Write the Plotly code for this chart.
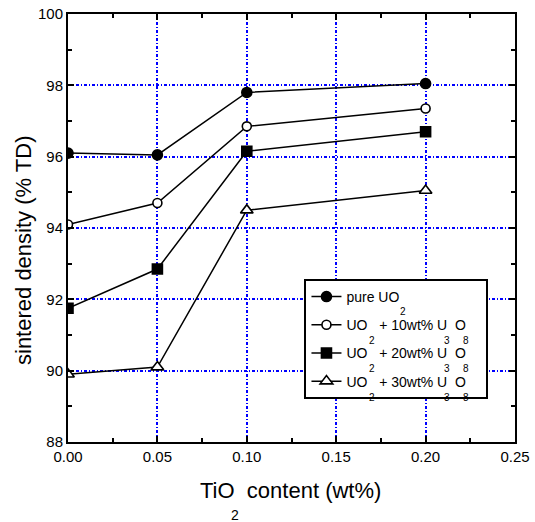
import plotly.graph_objects as go

# TiO2 additive content (wt%)
tio2 = [0.00, 0.05, 0.10, 0.20]

# Sintered density (% of theoretical density) for each powder blend
pure_uo2 = [96.10, 96.05, 97.80, 98.05]
u3o8_10 = [94.10, 94.70, 96.85, 97.35]
u3o8_20 = [91.75, 92.85, 96.15, 96.70]
u3o8_30 = [89.90, 90.10, 94.50, 95.05]

PAD = "\u00a0" * 4
series_names = [
    "pure UO",
    "UO   + 10wt% U  O" + PAD,
    "UO   + 20wt% U  O" + PAD,
    "UO   + 30wt% U  O" + PAD,
]
series_values = [pure_uo2, u3o8_10, u3o8_20, u3o8_30]
symbols = ["circle", "circle", "square", "triangle-up"]
fills = ["black", "white", "black", "white"]
sizes = [10, 9, 10, 11]

x_ticks = [0.00, 0.05, 0.10, 0.15, 0.20, 0.25]
y_ticks = [88, 90, 92, 94, 96, 98, 100]

FONT = "Liberation Sans, Arial, sans-serif"
W, H = 535, 522
ML, MR, MT, MB = 68, 20, 14, 80
PW, PH = W - ML - MR, H - MT - MB

fig = go.Figure()
for i, (name, vals) in enumerate(zip(series_names, series_values)):
    fig.add_trace(go.Scatter(
        x=tio2, y=vals, name=name, mode="lines+markers",
        legendgroup=f"g{i}",
        line=dict(color="black", width=1.5),
        marker=dict(symbol=symbols[i], size=sizes[i], color=fills[i],
                    line=dict(color="black", width=1.6)),
    ))

grid = dict(showgrid=True, gridcolor="#0000ff", gridwidth=1.5,
            griddash="3px,2px,1px,2px")

fig.update_xaxes(
    range=[0, 0.25], tickvals=x_ticks, tickformat=".2f", automargin=False,
    ticks="inside", ticklen=6, tickwidth=2, tickcolor="black",
    minor=dict(dtick=0.025, ticks="inside", ticklen=4, tickwidth=1.5,
               tickcolor="black", showgrid=False),
    showline=True, linecolor="black", linewidth=2, mirror="ticks",
    zeroline=False, tickfont=dict(family=FONT, size=15, color="black"),
    **grid,
)
fig.update_yaxes(
    range=[88, 100], tickvals=y_ticks, automargin=False,
    ticks="inside", ticklen=6, tickwidth=2, tickcolor="black",
    minor=dict(dtick=1, ticks="inside", ticklen=4, tickwidth=1.5,
               tickcolor="black", showgrid=False),
    showline=True, linecolor="black", linewidth=2, mirror="ticks",
    zeroline=False, tickfont=dict(family=FONT, size=15, color="black"),
    **grid,
)


def add_label(text, px, py, size, angle=0):
    """Place a text centred at page pixel (px, py)."""
    fig.add_annotation(text=text, xref="paper", yref="paper",
                       x=(px - ML) / PW, y=1 - (py - MT) / PH,
                       xanchor="center", yanchor="middle",
                       textangle=angle, showarrow=False,
                       font=dict(family=FONT, size=size, color="black"))


# Axis titles with their detached subscripts
add_label("sintered density (% TD)", 23, 251, 22, angle=-90)
add_label("TiO  content (wt%)", 290, 491, 22)
add_label("2", 235, 515, 14)

# Subscripts of the legend entries
for txt, px, py in [
    ("2", 403, 311),
    ("2", 372, 340), ("3", 447, 340), ("8", 466, 340),
    ("2", 372, 368), ("3", 447, 368), ("8", 466, 368),
    ("2", 372, 397), ("3", 447, 397), ("8", 466, 397),
]:
    add_label(txt, px, py, 10)

fig.update_layout(
    width=W, height=H,
    margin=dict(l=ML, r=MR, t=MT, b=MB),
    paper_bgcolor="white", plot_bgcolor="white",
    font=dict(family=FONT, color="black"),
    legend=dict(
        x=0.529, y=0.381, xanchor="left", yanchor="top",
        bgcolor="white", bordercolor="black", borderwidth=2,
        font=dict(family=FONT, size=14, color="black"),
        tracegroupgap=7, itemwidth=30,
    ),
)

fig.write_html("out.html")
